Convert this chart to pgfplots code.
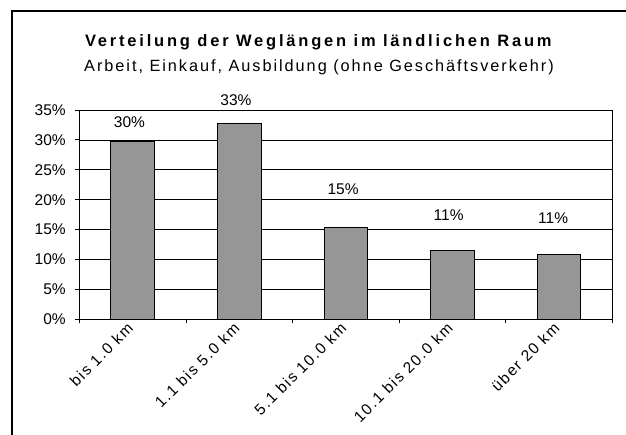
\documentclass[border=0pt]{standalone}
\usepackage{pgfplots}
\pgfplotsset{compat=1.18}
\usepackage{fontspec}
\setmainfont{Liberation Sans}
\newfontfamily\titlefont[LetterSpace=17]{Liberation Sans}
\newfontfamily\subfont[LetterSpace=12]{Liberation Sans}
\newfontfamily\xlabfont[LetterSpace=10]{Liberation Sans}
\definecolor{barg}{RGB}{150,150,150}
\begin{document}
\begin{tikzpicture}[x=1pt,y=1pt]
\path[use as bounding box, clip] (0,0) rectangle (626,435);
\fill[white] (0,0) rectangle (626,435);
\draw[line width=2pt] (12,-5) -- (12,424) -- (640,424);
\node[anchor=base, font=\titlefont\fontsize{16.5}{20}\selectfont\bfseries] at (318.3,388) {Verteilung der Weglängen im ländlichen Raum};
\node[anchor=base, font=\subfont\fontsize{16.3}{20}\selectfont] at (319,363.3) {Arbeit, Einkauf, Ausbildung (ohne Geschäftsverkehr)};
\begin{axis}[
  at={(79.3pt,115.7pt)}, anchor=south west,
  scale only axis, width=533pt, height=209.3pt,
  xmin=-0.5, xmax=4.5, ymin=0, ymax=35,
  ytick={0,5,...,35},
  yticklabel={\pgfmathprintnumber[fixed]{\tick}\%},
  /pgf/number format/assume math mode=true,
  ymajorgrids, grid style={black, line width=0.6pt},
  xtick={0,1,2,3,4},
  xticklabels={bis 1.0 km, 1.1 bis 5.0 km, 5.1 bis 10.0 km, 10.1 bis 20.0 km, über 20 km},
  minor xtick={-0.5,0.5,1.5,2.5,3.5,4.5},
  major x tick style={draw=none},
  tick align=outside, tick pos=left,
  major tick length=4pt, minor tick length=4pt,
  axis line style={black, line width=0.8pt},
  tick style={black, line width=0.8pt},
  ticklabel style={font=\fontsize{15.5}{18}\selectfont},
  yticklabel style={xshift=-6pt},
  xticklabel style={rotate=45, anchor=east, font=\xlabfont\fontsize{15.5}{18}\selectfont},
  clip=false,
]
\addplot[ybar, bar width=43.5pt, fill=barg, draw=black, line width=0.8pt] coordinates {
  (0,29.8) (1,32.8) (2,15.3) (3,11.5) (4,10.9)
};
\addplot[draw=none, mark=none, nodes near coords, point meta=explicit symbolic,
  nodes near coords style={anchor=center, font=\fontsize{15.5}{18}\selectfont}]
  table[meta=lab] {
x y lab
-0.03 33.0 30\%
0.97 36.7 33\%
1.975 21.8 15\%
2.965 17.4 11\%
3.945 16.9 11\%
};
\end{axis}
\end{tikzpicture}
\end{document}
